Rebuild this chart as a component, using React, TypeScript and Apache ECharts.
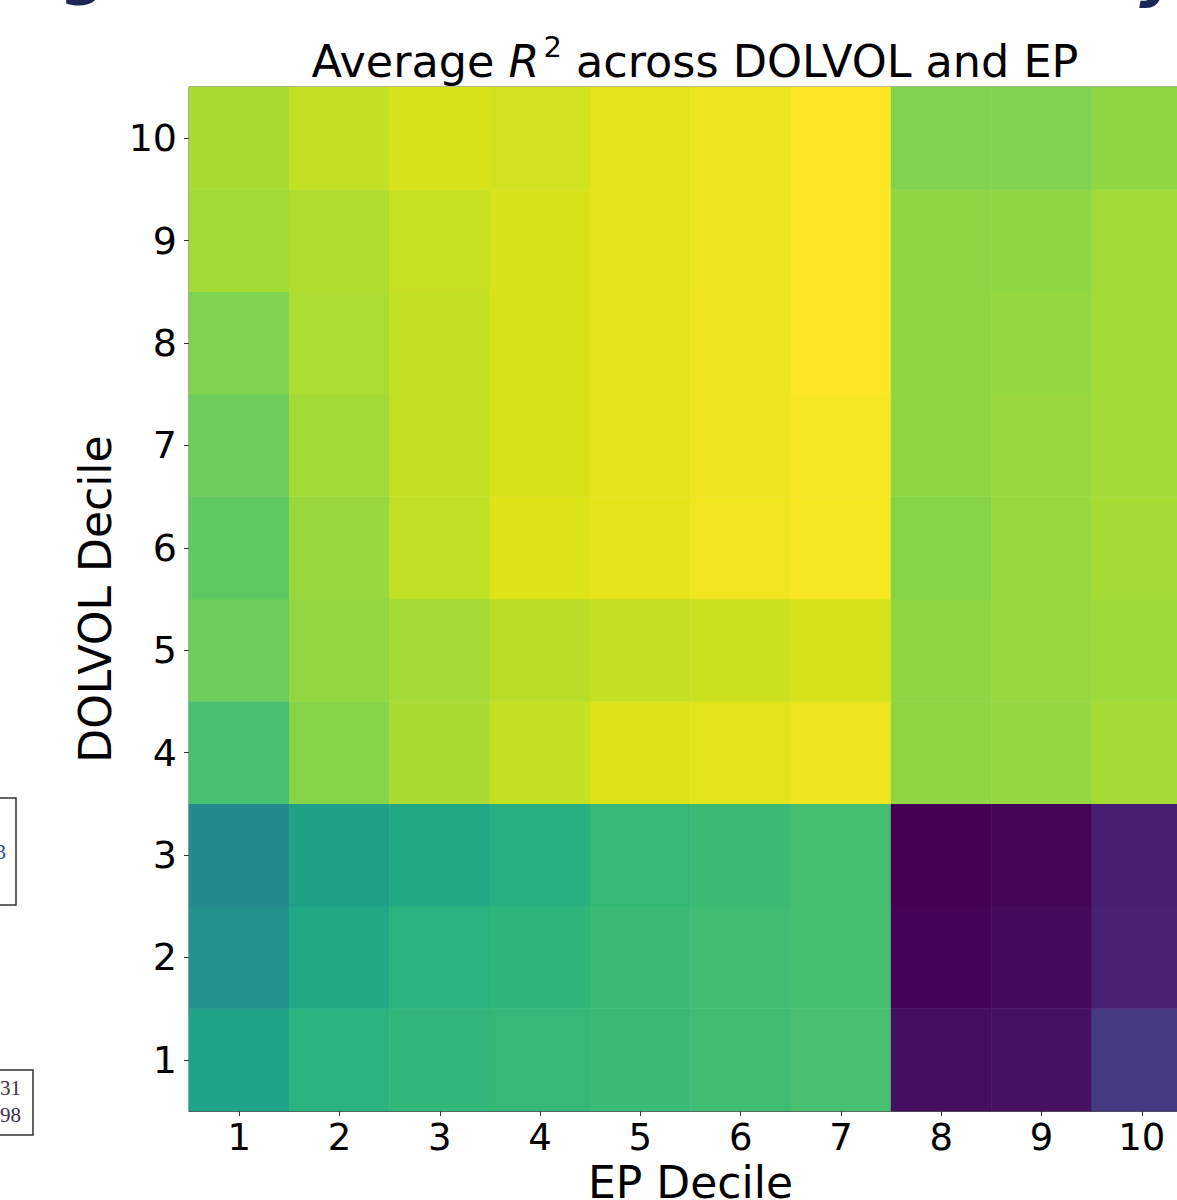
import React, { useEffect, useRef } from 'react';
import * as echarts from 'echarts';

// EP decile (x) and DOLVOL decile (y) categories
const epDeciles = ['1', '2', '3', '4', '5', '6', '7', '8', '9', '10'];
const dolvolDeciles = ['1', '2', '3', '4', '5', '6', '7', '8', '9', '10'];

// Relative average R² (colour scale 0..1), one array per DOLVOL decile, EP decile 1..10
const r2Dolvol1 = [0.58, 0.64, 0.66, 0.665, 0.675, 0.69, 0.705, 0.035, 0.045, 0.165];
const r2Dolvol2 = [0.5, 0.6, 0.64, 0.65, 0.675, 0.69, 0.7, 0.005, 0.025, 0.09];
const r2Dolvol3 = [0.475, 0.57, 0.6, 0.63, 0.665, 0.68, 0.7, 0.0, 0.01, 0.085];
const r2Dolvol4 = [0.705, 0.82, 0.87, 0.91, 0.945, 0.955, 0.975, 0.83, 0.84, 0.865];
const r2Dolvol5 = [0.775, 0.835, 0.865, 0.895, 0.91, 0.92, 0.935, 0.83, 0.845, 0.855];
const r2Dolvol6 = [0.75, 0.845, 0.905, 0.945, 0.965, 0.98, 0.99, 0.82, 0.845, 0.865];
const r2Dolvol7 = [0.775, 0.86, 0.91, 0.94, 0.96, 0.975, 0.99, 0.83, 0.845, 0.86];
const r2Dolvol8 = [0.81, 0.875, 0.91, 0.94, 0.96, 0.975, 1.0, 0.83, 0.84, 0.86];
const r2Dolvol9 = [0.86, 0.88, 0.915, 0.94, 0.955, 0.975, 1.0, 0.83, 0.83, 0.86];
const r2Dolvol10 = [0.87, 0.91, 0.94, 0.93, 0.955, 0.975, 1.0, 0.81, 0.81, 0.83];

const r2Rows = [
  r2Dolvol1, r2Dolvol2, r2Dolvol3, r2Dolvol4, r2Dolvol5,
  r2Dolvol6, r2Dolvol7, r2Dolvol8, r2Dolvol9, r2Dolvol10,
];

const viridis = [
  '#440154', '#471365', '#482475', '#463480', '#414487', '#3b528b', '#355f8d',
  '#2f6c8e', '#2a788e', '#25848e', '#21918c', '#1e9c89', '#22a884', '#2fb47c',
  '#44bf70', '#5ec962', '#7ad151', '#9bd93c', '#bddf26', '#dfe318', '#fde725',
];

const FONT = 'DejaVu Sans';

export default function App() {
  const ref = useRef<HTMLDivElement>(null);

  useEffect(() => {
    if (!ref.current) return;
    const chart = echarts.init(ref.current, null, { renderer: 'svg' });

    const data: number[][] = [];
    r2Rows.forEach((row, yi) => {
      row.forEach((v, xi) => data.push([xi, yi, v]));
    });

    chart.setOption({
      animation: false,
      backgroundColor: '#ffffff',
      title: {
        text: '{a|Average }{i|R}{s|2}{a| across DOLVOL and EP}',
        left: 690,
        top: 25,
        textAlign: 'center',
        textStyle: {
          fontWeight: 'normal',
          fontFamily: FONT,
          rich: {
            a: { fontFamily: FONT, fontSize: 44.5, fontWeight: 'normal', color: '#000', lineHeight: 54, verticalAlign: 'bottom' },
            i: { fontFamily: FONT, fontSize: 44.5, fontWeight: 'normal', color: '#000', fontStyle: 'italic', lineHeight: 54, verticalAlign: 'bottom' },
            s: { fontFamily: FONT, fontSize: 29, fontWeight: 'normal', color: '#000', lineHeight: 29, verticalAlign: 'top', padding: [2, 0, 0, 4] },
          },
        },
      },
      grid: {
        left: 189,
        top: 87,
        width: 1003,
        height: 1024,
        outerBoundsMode: 'none',
        containLabel: false,
        show: true,
        borderColor: '#555',
        borderWidth: 1,
        backgroundColor: 'transparent',
      },
      xAxis: {
        type: 'category',
        data: epDeciles,
        name: 'EP Decile',
        nameLocation: 'middle',
        nameGap: 48,
        nameTextStyle: { fontFamily: FONT, fontSize: 44, color: '#000' },
        axisLine: { show: true, lineStyle: { color: '#555', width: 1 } },
        axisTick: { show: true, alignWithLabel: true, interval: 0, length: 5, lineStyle: { color: '#333' } },
        axisLabel: { fontFamily: FONT, fontSize: 37, color: '#000', margin: 8, interval: 0 },
        splitLine: { show: false },
        splitArea: { show: false },
      },
      yAxis: {
        type: 'category',
        data: dolvolDeciles,
        name: 'DOLVOL Decile',
        nameLocation: 'middle',
        nameGap: 72,
        nameRotate: 90,
        nameTextStyle: { fontFamily: FONT, fontSize: 44, color: '#000' },
        axisLine: { show: true, lineStyle: { color: '#555', width: 1 } },
        axisTick: { show: true, alignWithLabel: true, interval: 0, length: 5, lineStyle: { color: '#333' } },
        axisLabel: { fontFamily: FONT, fontSize: 38, color: '#000', margin: 12, interval: 0 },
        splitLine: { show: false },
        splitArea: { show: false },
      },
      visualMap: {
        show: false,
        type: 'continuous',
        min: 0,
        max: 1,
        dimension: 2,
        inRange: { color: viridis },
      },
      series: [
        {
          type: 'heatmap',
          data,
          itemStyle: { borderWidth: 0 },
          emphasis: { disabled: true },
        },
      ],
      graphic: [
        // fragments of the surrounding slide
        {
          type: 'text',
          x: 82,
          y: 2,
          style: {
            text: 'g',
            fontFamily: FONT,
            fontSize: 64,
            fontWeight: 'bold',
            fill: '#1b2556',
            textAlign: 'center',
            textVerticalAlign: 'bottom',
          },
        },
        {
          type: 'text',
          x: 1160,
          y: 4,
          style: {
            text: 'y',
            fontFamily: FONT,
            fontSize: 64,
            fontWeight: 'bold',
            fontStyle: 'italic',
            fill: '#1b2556',
            textAlign: 'center',
            textVerticalAlign: 'bottom',
          },
        },
        {
          type: 'rect',
          shape: { x: -5, y: 798, width: 21, height: 107 },
          style: { fill: 'none', stroke: '#333', lineWidth: 1.5 },
        },
        {
          type: 'text',
          x: 6,
          y: 852,
          style: {
            text: '3',
            fontFamily: 'Liberation Serif',
            fontSize: 21,
            fill: '#2a4d9b',
            textAlign: 'right',
            textVerticalAlign: 'middle',
          },
        },
        {
          type: 'rect',
          shape: { x: -5, y: 1070, width: 38, height: 65 },
          style: { fill: 'none', stroke: '#333', lineWidth: 1.5 },
        },
        {
          type: 'text',
          x: 21,
          y: 1088,
          style: {
            text: '31',
            fontFamily: 'Liberation Serif',
            fontSize: 21,
            fill: '#3a3050',
            textAlign: 'right',
            textVerticalAlign: 'middle',
          },
        },
        {
          type: 'text',
          x: 21,
          y: 1115,
          style: {
            text: '98',
            fontFamily: 'Liberation Serif',
            fontSize: 21,
            fill: '#3a3050',
            textAlign: 'right',
            textVerticalAlign: 'middle',
          },
        },
      ],
    });

    return () => {
      chart.dispose();
    };
  }, []);

  return (
    <div
      style={{
        position: 'absolute',
        left: 0,
        top: 0,
        width: 1177,
        height: 1200,
        overflow: 'hidden',
        background: '#fff',
      }}
    >
      <div ref={ref} style={{ width: 1200, height: 1200 }} />
    </div>
  );
}
